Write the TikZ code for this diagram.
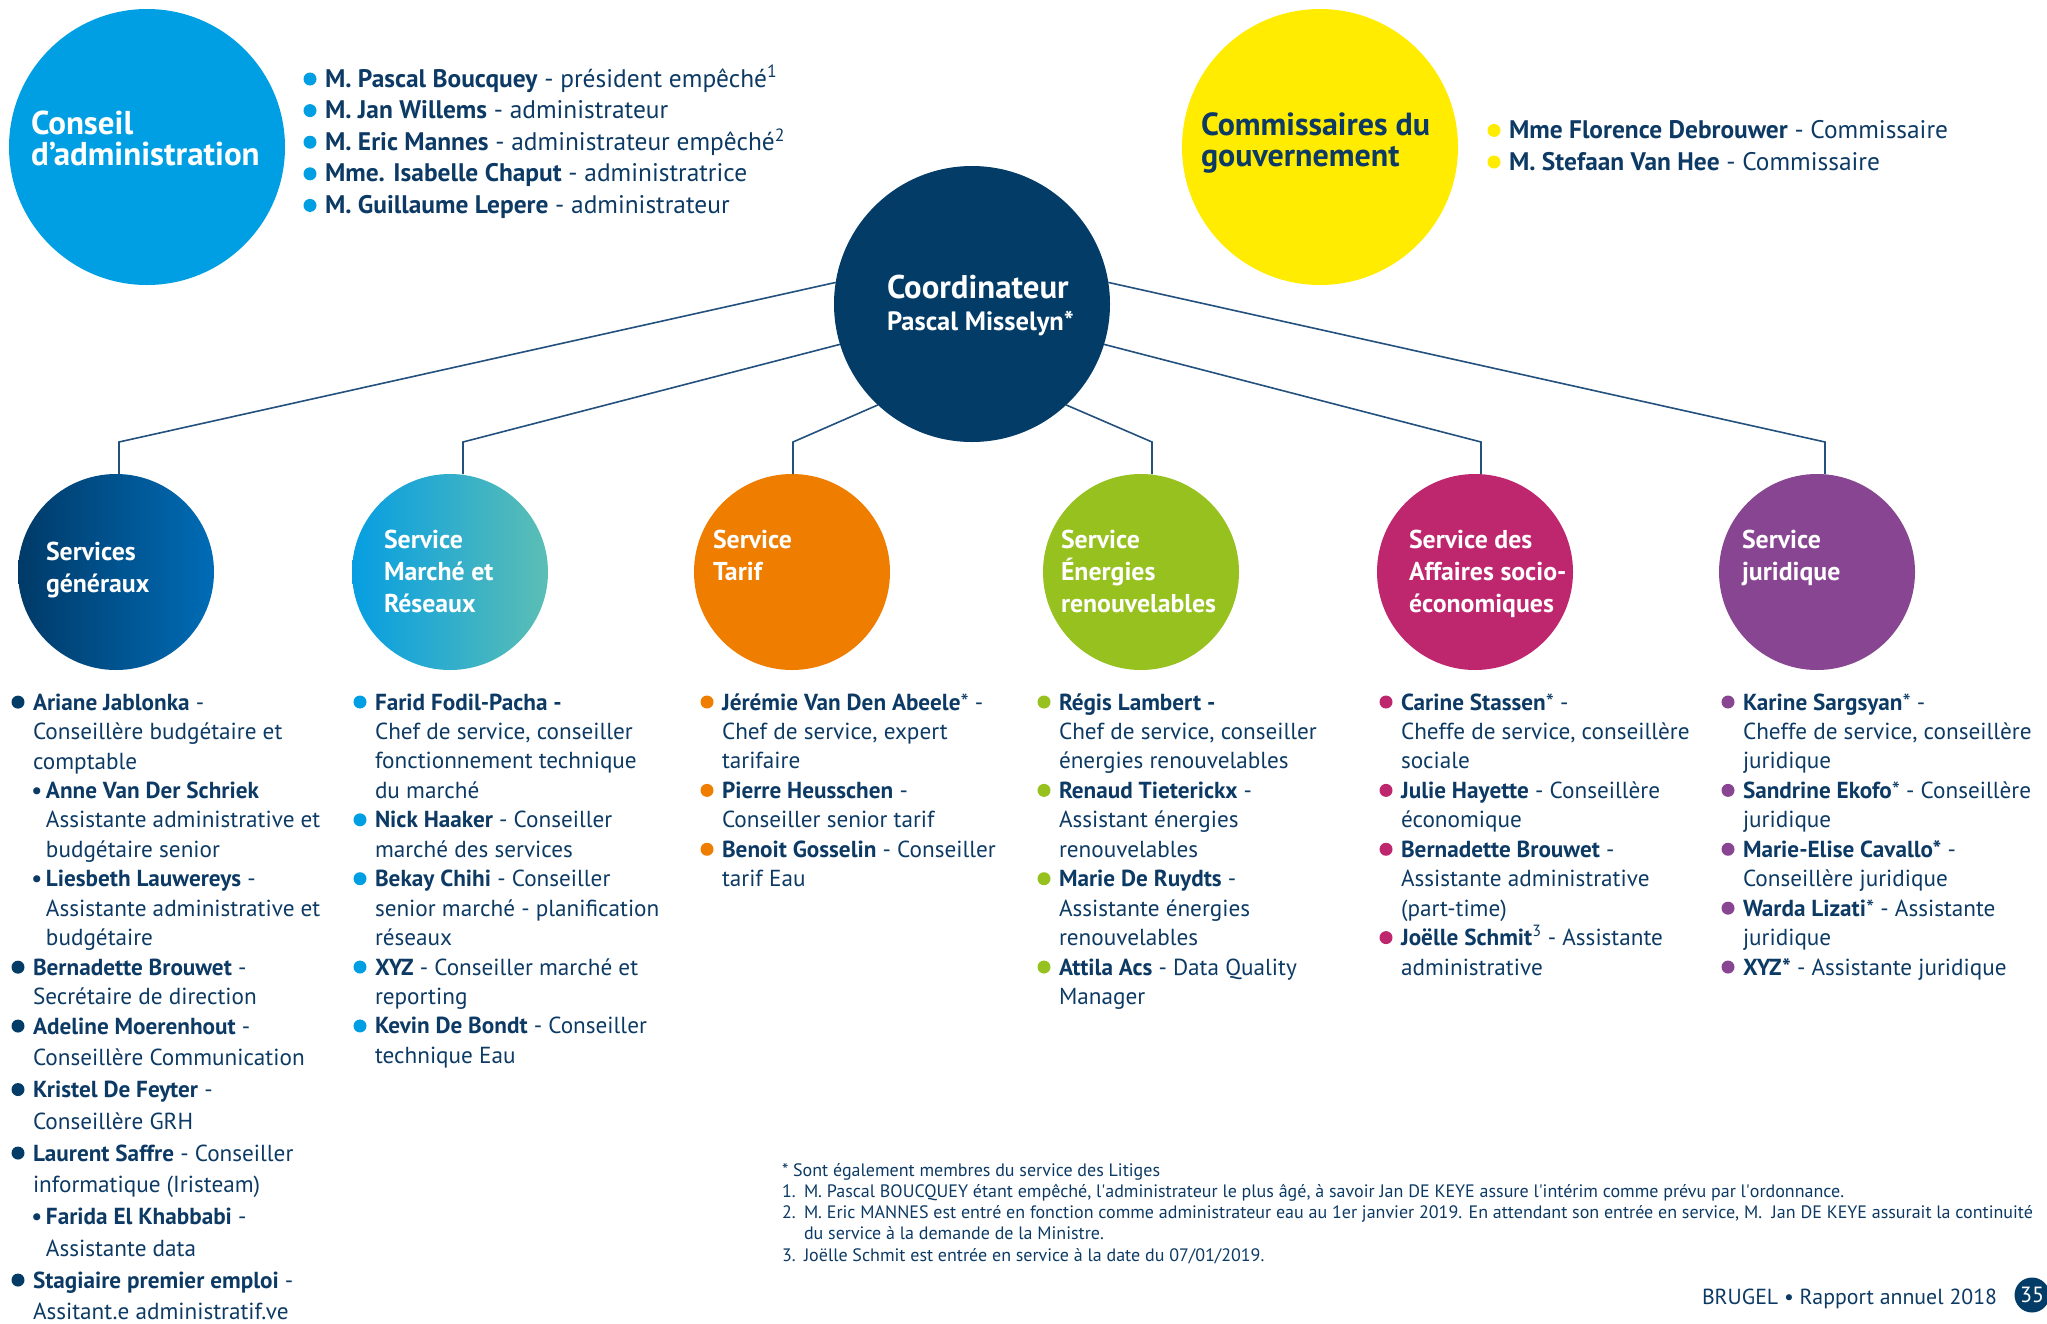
\documentclass[tikz,border=0pt]{standalone}
\usepackage{fontspec}
\setmainfont{PT Sans}
\usetikzlibrary{positioning,calc}

\definecolor{BrugelNavy}{RGB}{3,60,103}
\definecolor{InkNavy}{RGB}{12,58,100}
\definecolor{LinkBlue}{RGB}{35,80,125}
\definecolor{BoardCyan}{RGB}{0,159,227}
\definecolor{GovYellow}{RGB}{255,236,0}
\definecolor{GenDark}{RGB}{0,58,104}
\definecolor{GenBlue}{RGB}{0,108,182}
\definecolor{NetCyan}{RGB}{6,158,226}
\definecolor{NetTeal}{RGB}{0,178,204}
\definecolor{NetMint}{RGB}{92,190,180}
\definecolor{TarifOrange}{RGB}{238,125,0}
\definecolor{EnergyGreen}{RGB}{150,193,31}
\definecolor{SocioMagenta}{RGB}{190,38,110}
\definecolor{LawPurple}{RGB}{136,69,145}

% coloured list bullet, hung in the left margin
\newcommand{\pdot}[1]{\llap{\tikz[baseline=-8pt]\fill[#1] (0,0) circle (6.5pt);\hspace{8.5pt}}}
% small bullet for the sub-entries
\newcommand{\sdot}{\llap{\textbf{•}\hspace{4pt}}}

\begin{document}
\begin{tikzpicture}[x=1pt,y=-1pt,
  every node/.style={inner sep=0pt, outer sep=0pt},
  bigdisc/.style={circle, minimum size=276pt},
  svcdisc/.style={circle, minimum size=196pt},
  headtext/.style={anchor=base west, align=left, font=\bfseries\fontsize{32}{31}\selectfont},
  svctext/.style={anchor=base west, align=left, text=white, font=\bfseries\fontsize{25.8}{32}\selectfont},
  toplist/.style={anchor=base west, align=left, text=InkNavy, font=\fontsize{25.4}{31.6}\selectfont},
  staff/.style={anchor=base west, align=left, text=InkNavy, font=\fontsize{23.2}{29.45}\selectfont},
  link/.style={draw=LinkBlue, line width=1.6pt}]
  \useasboundingbox (0,0) rectangle (2047,1323);
  % note: a multi-line node sits on the baseline of its last line

  % board and government commissioners
  \node[bigdisc, fill=BoardCyan] (board) at (147,147) {};
  \node[headtext, text=white, font=\bfseries\fontsize{33}{31}\selectfont] (boardhead) at (31,165) {Conseil\\d’administration};
  \node[toplist] (boardlist) at (325,213.4) {%
    \pdot{BoardCyan}\textbf{M. Pascal Boucquey} - président empêché\textsuperscript{1}\\
    \pdot{BoardCyan}\textbf{M. Jan Willems} - administrateur\\
    \pdot{BoardCyan}\textbf{M. Eric Mannes} - administrateur empêché\textsuperscript{2}\\
    \pdot{BoardCyan}\textbf{Mme. Isabelle Chaput} - administratrice\\
    \pdot{BoardCyan}\textbf{M. Guillaume Lepere} - administrateur};

  \node[bigdisc, fill=GovYellow] (gov) at (1320,147) {};
  \node[headtext, text=InkNavy] (govhead) at (1201,166) {Commissaires du\\gouvernement};
  \node[toplist] (govlist) at (1509,170) {%
    \pdot{GovYellow}\textbf{Mme Florence Debrouwer} - Commissaire\\
    \pdot{GovYellow}\textbf{M. Stefaan Van Hee} - Commissaire};

  % coordinator
  \node[bigdisc, fill=BrugelNavy] (coord) at (972,304) {};
  \node[anchor=base west, align=left, text=white, font=\bfseries\fontsize{32.8}{32}\selectfont] (coordhead) at (887,330)
    {Coordinateur\\{\fontsize{26.5}{32}\selectfont Pascal Misselyn*}};

  % services
  \node[svcdisc, left color=GenDark, right color=GenBlue] (sgen) at (116,572) {};
  \node[svcdisc, left color=NetCyan, middle color=NetTeal, right color=NetMint] (smarket) at (450,572) {};
  \node[svcdisc, fill=TarifOrange] (stariff) at (792,572) {};
  \node[svcdisc, fill=EnergyGreen] (senergy) at (1141,572) {};
  \node[svcdisc, fill=SocioMagenta] (ssocio) at (1475,572) {};
  \node[svcdisc, fill=LawPurple] (slegal) at (1817,572) {};

  \node[svctext] (sgentext) at (46,592) {Services\\généraux};
  \node[svctext] (smarkettext) at (384,612) {Service\\Marché et\\Réseaux};
  \node[svctext] (starifftext) at (713,580) {Service\\Tarif};
  \node[svctext] (senergytext) at (1061,612) {Service\\Énergies\\renouvelables};
  \node[svctext] (ssociotext) at (1409,612) {Service des\\Affaires socio-\\économiques};
  \node[svctext] (slegaltext) at (1742,580) {Service\\juridique};

  % tree lines from the coordinator down to each service
  \foreach \ang/\bx/\svc in {171/119/sgen, 197/463/smarket, 227/793/stariff,
                             313/1152/senergy, 343/1481/ssocio, 9/1825/slegal} {
    \coordinate (bend-\svc) at (\bx,442);
    \draw[link] (coord.\ang) -- (bend-\svc) -- (bend-\svc |- \svc.north);
  }

  % staff lists
  \node[staff] (genlist) at (33,1319.8) {%
    \pdot{BrugelNavy}\textbf{Ariane Jablonka} -\\
    Conseillère budgétaire et\\
    comptable\\
    \hspace*{13pt}\sdot\textbf{Anne Van Der Schriek}\\
    \hspace*{13pt}Assistante administrative et\\
    \hspace*{13pt}budgétaire senior\\
    \hspace*{13pt}\sdot\textbf{Liesbeth Lauwereys} -\\
    \hspace*{13pt}Assistante administrative et\\
    \hspace*{13pt}budgétaire\\
    \pdot{BrugelNavy}\textbf{Bernadette Brouwet} -\\
    Secrétaire de direction\\
    \pdot{BrugelNavy}\textbf{Adeline Moerenhout} -\\[2.3pt]
    Conseillère Communication\\[2.3pt]
    \pdot{BrugelNavy}\textbf{Kristel De Feyter} -\\[2.3pt]
    Conseillère GRH\\[2.3pt]
    \pdot{BrugelNavy}\textbf{Laurent Saffre} - Conseiller\\[2.3pt]
    informatique (Iristeam)\\[2.3pt]
    \hspace*{13pt}\sdot\textbf{Farida El Khabbabi} -\\[2.3pt]
    \hspace*{13pt}Assistante data\\[2.3pt]
    \pdot{BrugelNavy}\textbf{Stagiaire premier emploi} -\\[2.3pt]
    Assitant.e administratif.ve};

  \node[staff] (marketlist) at (375,1063.4) {%
    \pdot{BoardCyan}\textbf{Farid Fodil-Pacha -}\\
    Chef de service, conseiller\\
    fonctionnement technique\\
    du marché\\
    \pdot{BoardCyan}\textbf{Nick Haaker} - Conseiller\\
    marché des services\\
    \pdot{BoardCyan}\textbf{Bekay Chihi} - Conseiller\\
    senior marché - planification\\
    réseaux\\
    \pdot{BoardCyan}\textbf{XYZ} - Conseiller marché et\\
    reporting\\
    \pdot{BoardCyan}\textbf{Kevin De Bondt} - Conseiller\\
    technique Eau};

  \node[staff] (tarifflist) at (722,886.7) {%
    \pdot{TarifOrange}\textbf{Jérémie Van Den Abeele}* -\\
    Chef de service, expert\\
    tarifaire\\
    \pdot{TarifOrange}\textbf{Pierre Heusschen} -\\
    Conseiller senior tarif\\
    \pdot{TarifOrange}\textbf{Benoit Gosselin} - Conseiller\\
    tarif Eau};

  \node[staff] (energylist) at (1059,1004.5) {%
    \pdot{EnergyGreen}\textbf{Régis Lambert -}\\
    Chef de service, conseiller\\
    énergies renouvelables\\
    \pdot{EnergyGreen}\textbf{Renaud Tieterickx} -\\
    Assistant énergies\\
    renouvelables\\
    \pdot{EnergyGreen}\textbf{Marie De Ruydts} -\\
    Assistante énergies\\
    renouvelables\\
    \pdot{EnergyGreen}\textbf{Attila Acs} - Data Quality\\
    Manager};

  \node[staff] (sociolist) at (1401,975.05) {%
    \pdot{SocioMagenta}\textbf{Carine Stassen}* -\\
    Cheffe de service, conseillère\\
    sociale\\
    \pdot{SocioMagenta}\textbf{Julie Hayette} - Conseillère\\
    économique\\
    \pdot{SocioMagenta}\textbf{Bernadette Brouwet} -\\
    Assistante administrative\\
    (part-time)\\
    \pdot{SocioMagenta}\textbf{Joëlle Schmit}\textsuperscript{3} - Assistante\\
    administrative};

  \node[staff] (legallist) at (1743,975.05) {%
    \pdot{LawPurple}\textbf{Karine Sargsyan}* -\\
    Cheffe de service, conseillère\\
    juridique\\
    \pdot{LawPurple}\textbf{Sandrine Ekofo}* - Conseillère\\
    juridique\\
    \pdot{LawPurple}\textbf{Marie-Elise Cavallo*} -\\
    Conseillère juridique\\
    \pdot{LawPurple}\textbf{Warda Lizati}* - Assistante\\
    juridique\\
    \pdot{LawPurple}\textbf{XYZ*} - Assistante juridique};

  % footnotes and page footer
  \node[anchor=base west, align=left, text=InkNavy, font=\fontsize{18}{21.2}\selectfont] (notes) at (782,1261) {%
    * Sont également membres du service des Litiges\\
    \makebox[22pt][l]{1.}M. Pascal BOUCQUEY étant empêché, l\textquotesingle administrateur le plus âgé, à savoir Jan DE KEYE assure l\textquotesingle intérim comme prévu par l\textquotesingle ordonnance.\\
    \makebox[22pt][l]{2.}M. Eric MANNES est entré en fonction comme administrateur eau au 1er janvier 2019. En attendant son entrée en service, M.~ Jan DE KEYE assurait la continuité\\
    \hspace*{22pt}du service à la demande de la Ministre.\\
    \makebox[22pt][l]{3.}Joëlle Schmit est entrée en service à la date du 07/01/2019.};

  \node[anchor=base east, text=InkNavy, font=\fontsize{21.8}{26}\selectfont] (footer) at (1997,1304) {BRUGEL • Rapport annuel 2018};
  \node[circle, fill=BrugelNavy, minimum size=35pt, text=white, font=\fontsize{22}{26}\selectfont] (page) at (2032,1295) {35};
\end{tikzpicture}
\end{document}
